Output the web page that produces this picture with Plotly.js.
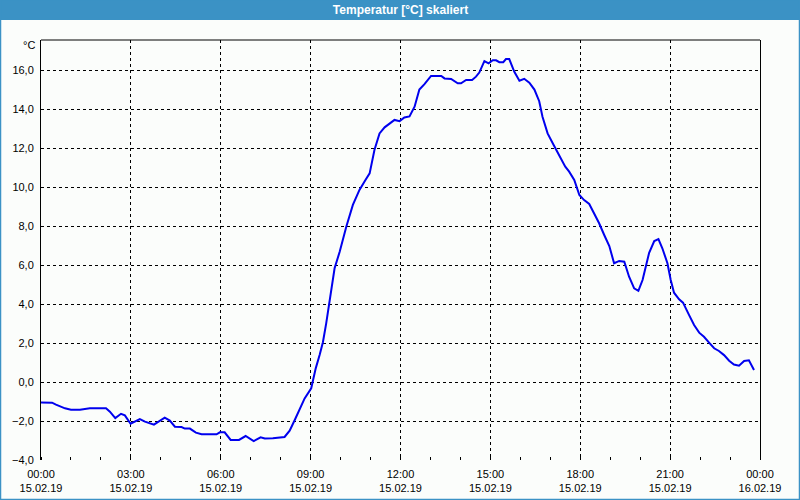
<!DOCTYPE html>
<html>
<head>
<meta charset="utf-8">
<script src="https://cdn.plot.ly/plotly-3.0.1.min.js"></script>
<style>
  html, body { margin: 0; padding: 0; background: #fbfdfb; }
  #chart { width: 800px; height: 500px; }
</style>
</head>
<body>
<div id="chart"></div>
<script>
// Hours since 15.02.19 00:00
const hours = [
  0, 0.37, 0.5, 0.8, 1.0, 1.3, 1.63, 2.17, 2.3, 2.48, 2.67, 2.8, 2.99, 3.3, 3.47, 3.77,
  4.13, 4.3, 4.47, 4.69, 4.8, 4.97, 5.17, 5.36, 5.86, 5.97, 6.13, 6.33, 6.61, 6.83, 7.1,
  7.33, 7.47, 7.74, 8.13, 8.3, 8.47, 8.63, 8.8, 9.02, 9.17, 9.3, 9.41, 9.52, 9.63, 9.71,
  9.8, 9.97, 10.19, 10.41, 10.63, 10.83, 10.97, 11.13, 11.3, 11.47, 11.8, 11.97, 12.13,
  12.3, 12.47, 12.63, 12.8, 13.02, 13.36, 13.47, 13.69, 13.91, 14.02, 14.19, 14.39, 14.52,
  14.63, 14.8, 14.94, 15.08, 15.19, 15.3, 15.43, 15.52, 15.63, 15.8, 15.97, 16.13, 16.3,
  16.47, 16.63, 16.74, 16.91, 17.13, 17.3, 17.5, 17.63, 17.8, 17.97, 18.13, 18.3, 18.47,
  18.63, 18.8, 18.97, 19.13, 19.3, 19.47, 19.63, 19.8, 19.94, 20.08, 20.19, 20.3, 20.47,
  20.61, 20.74, 20.91, 21.02, 21.13, 21.3, 21.43, 21.63, 21.8, 21.97, 22.13, 22.3, 22.47,
  22.63, 22.8, 22.97, 23.13, 23.3, 23.47, 23.63, 23.8
];
const temperature = [
  -1.05, -1.06, -1.16, -1.35, -1.42, -1.42, -1.35, -1.35, -1.52, -1.85, -1.63, -1.71, -2.14, -1.9, -2.03, -2.19,
  -1.83, -1.98, -2.29, -2.31, -2.39, -2.39, -2.6, -2.68, -2.68, -2.58, -2.58, -2.97, -2.97, -2.77, -3.03,
  -2.84, -2.9, -2.89, -2.82, -2.5, -1.95, -1.44, -0.84, -0.32, 0.7, 1.38, 2.04, 3.01, 4.04, 4.89,
  5.83, 6.68, 7.96, 9.08, 9.85, 10.36, 10.7, 11.9, 12.75, 13.06, 13.44, 13.38, 13.57,
  13.62, 14.12, 15.0, 15.28, 15.7, 15.7, 15.57, 15.54, 15.32, 15.32, 15.49, 15.49, 15.66,
  15.87, 16.46, 16.34, 16.5, 16.5, 16.4, 16.4, 16.56, 16.56, 15.91, 15.45, 15.55, 15.35,
  15.0, 14.4, 13.6, 12.75, 12.1, 11.59, 11.04, 10.79, 10.36, 9.59, 9.33, 9.13, 8.62,
  8.14, 7.54, 6.97, 6.09, 6.21, 6.17, 5.4, 4.8, 4.68, 5.23, 5.91, 6.63, 7.23,
  7.33, 6.86, 6.09, 5.23, 4.58, 4.24, 4.07, 3.44, 2.92, 2.53, 2.32, 2.02, 1.73,
  1.59, 1.38, 1.09, 0.9, 0.84, 1.08, 1.11, 0.62
];
const xTickVals = [0, 3, 6, 9, 12, 15, 18, 21, 24];
const xTickText = [
  "00:00<br>15.02.19", "03:00<br>15.02.19", "06:00<br>15.02.19", "09:00<br>15.02.19",
  "12:00<br>15.02.19", "15:00<br>15.02.19", "18:00<br>15.02.19", "21:00<br>15.02.19",
  "00:00<br>16.02.19"
];
const yTickVals = [-4, -2, 0, 2, 4, 6, 8, 10, 12, 14, 16];
const titleText = "Temperatur [°C] skaliert";
const unitText = "°C";

// Plot area geometry in pixels (for chrome shapes)
const L = 41, R = 40, T = 40, B = 40, W = 800, H = 500;
const pw = W - L - R, ph = H - T - B;
const px = x => (x - L) / pw;
const py = y => (H - B - y) / ph;

const blue = "#3b92c5";
const font = { family: "Liberation Sans, Arial, sans-serif", size: 11, color: "#000" };

const trace = {
  x: hours, y: temperature, type: "scatter", mode: "lines",
  line: { color: "#0000ee", width: 2 }, hoverinfo: "skip"
};

const layout = {
  width: W, height: H,
  margin: { l: L, r: R, t: T, b: B, pad: 0 },
  paper_bgcolor: "#fbfdfb", plot_bgcolor: "#fbfdfb",
  showlegend: false,
  separators: ",.",
  font: font,
  title: {
    text: titleText,
    font: { family: "Liberation Sans, Arial, sans-serif", size: 12, color: "#ffffff", weight: "bold" },
    x: 0.5, xanchor: "center", y: 1 - 10 / H, yanchor: "middle", xref: "paper"
  },
  xaxis: {
    range: [0, 24], fixedrange: true,
    tickmode: "array", tickvals: xTickVals, ticktext: xTickText,
    showgrid: true, gridcolor: "#000", gridwidth: 1, griddash: "3px,3px",
    zeroline: false, showline: false,
    ticks: "", ticklabelstandoff: 6,
    minor: { dtick: 1, tick0: 0, ticks: "inside", ticklen: 3, tickcolor: "#000", showgrid: false },
    tickfont: font
  },
  yaxis: {
    range: [-4, 17.54], fixedrange: true,
    tickmode: "array", tickvals: yTickVals, tickformat: ".1f",
    showgrid: true, gridcolor: "#000", gridwidth: 1, griddash: "3px,3px",
    zeroline: false, showline: true, linecolor: "#000", linewidth: 1, mirror: true,
    ticks: "", ticklabelstandoff: 4,
    tickfont: font
  },
  shapes: [
    // title bar
    { type: "rect", xref: "paper", yref: "paper", x0: px(0), x1: px(W), y0: py(20), y1: py(0),
      fillcolor: blue, line: { width: 0 }, layer: "below" },
    // top plot border
    { type: "line", xref: "paper", yref: "paper", x0: 0, x1: 1, y0: 1, y1: 1,
      line: { color: "#000", width: 1 } },
    // outer frame
    { type: "rect", xref: "paper", yref: "paper", x0: px(0.5), x1: px(W - 0.5), y0: py(H - 0.5), y1: py(0),
      fillcolor: "rgba(0,0,0,0)", line: { color: blue, width: 1.5 } }
  ],
  annotations: [
    { text: unitText, xref: "paper", yref: "paper", x: px(37), y: py(45), xanchor: "right", yanchor: "middle",
      showarrow: false, font: font }
  ]
};

Plotly.newPlot("chart", [trace], layout, { displayModeBar: false, staticPlot: true });
</script>
</body>
</html>
